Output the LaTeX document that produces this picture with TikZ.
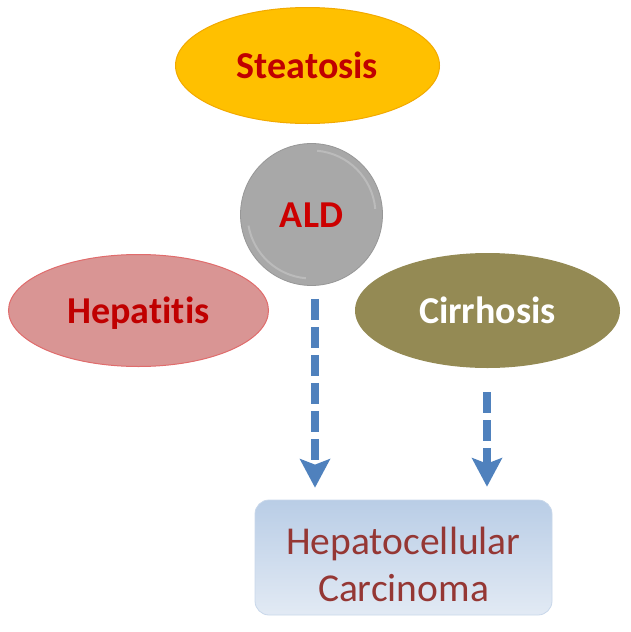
\documentclass[tikz,border=0pt]{standalone}
\usepackage{fontspec}
\setmainfont[Ligatures={NoCommon}]{Carlito}
\usetikzlibrary{shapes.geometric,arrows.meta,calc}
\definecolor{steafill}{HTML}{FFC000}
\definecolor{steadraw}{HTML}{F2A900}
\definecolor{darkred}{HTML}{C00000}
\definecolor{aldred}{HTML}{CC0000}
\definecolor{aldgray}{HTML}{A8A8A8}
\definecolor{hepfill}{HTML}{D99594}
\definecolor{hepdraw}{HTML}{E06C6C}
\definecolor{cirfill}{HTML}{948A54}
\definecolor{arrblue}{HTML}{4F81BD}
\definecolor{hcctop}{HTML}{B9CDE6}
\definecolor{hccbot}{HTML}{E2EAF4}
\definecolor{hccdraw}{HTML}{C8D7EA}
\definecolor{hcctext}{HTML}{953734}
\tikzset{
  bigfont/.style={font=\fontsize{38}{47}\selectfont\bfseries},
  ellnode/.style={ellipse, inner sep=0pt, bigfont, text height=25pt, text depth=0pt},
  arr/.style={draw=arrblue, line width=7.5pt, dash pattern=on 21pt off 7pt,
    -{Stealth[width=31pt,length=29pt,inset=6pt,line width=0pt]}, line join=round},
}
\begin{document}
\begin{tikzpicture}[x=1pt,y=1pt]
\useasboundingbox (0,0) rectangle (631,-632);
\node[ellnode, fill=steafill, draw=steadraw, line width=1pt,
      minimum width=264pt, minimum height=116pt, text=darkred] (STE) at (307.5,-65.5) {Steatosis};
\node[circle, inner sep=0pt, minimum size=142pt, fill=aldgray, draw=aldgray!90!black, line width=0.8pt,
      bigfont, text height=25pt, text depth=0pt, text=aldred] (ALD) at (311.5,-214.5) {ALD};
\draw[white, opacity=0.22, line width=2pt] ($(ALD.center)+(5:64)$) arc[start angle=5, end angle=85, radius=64pt];
\draw[white, opacity=0.22, line width=2pt] ($(ALD.center)+(190:64)$) arc[start angle=190, end angle=265, radius=64pt];
\node[ellnode, fill=hepfill, draw=hepdraw, line width=1pt,
      minimum width=260pt, minimum height=112pt, text=darkred] (HEP) at (138.5,-310.5) {Hepatitis};
\node[ellnode, fill=cirfill, minimum width=265pt, minimum height=115pt, text=white] (CIR) at (487.5,-310.5) {Cirrhosis};
\node[rectangle, rounded corners=14pt, minimum width=297pt, minimum height=115pt, inner sep=0pt,
      top color=hcctop, bottom color=hccbot, draw=hccdraw, line width=0.8pt,
      font=\fontsize{39.5}{47}\selectfont, text=hcctext, align=center] (HCC) at (403.5,-557.5)
      {\rule{0pt}{42pt}Hepatocellular\\Carcinoma};
\draw[arr] ($(ALD.south)+(3.5,-13)$) -- ($(ALD.south |- HCC.north)+(3.5,12)$);
\draw[arr] ($(CIR.south)+(-0.5,-24)$) -- ($(CIR.south |- HCC.north)+(-0.5,13)$);
\end{tikzpicture}
\end{document}
